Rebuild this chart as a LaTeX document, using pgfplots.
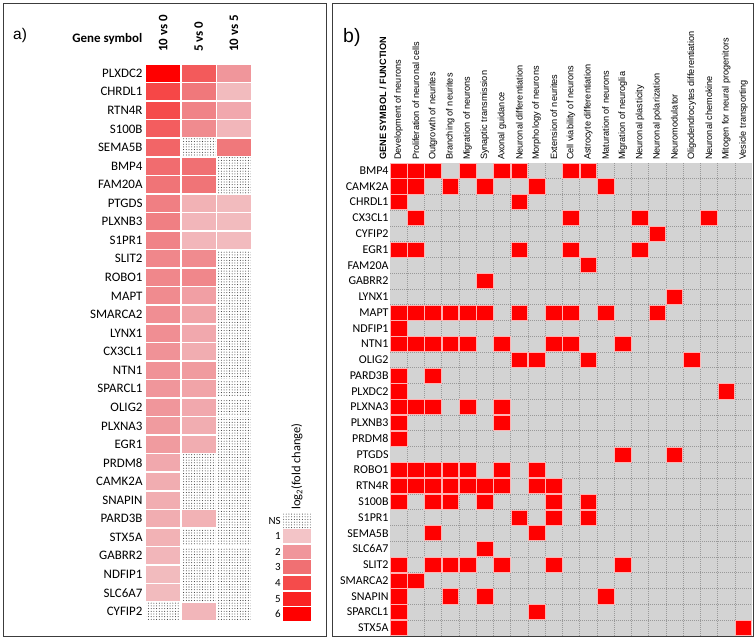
\documentclass[border=0pt]{standalone}
\usepackage{fontspec}
\setmainfont{Carlito}
\newfontfamily\arial{Liberation Sans}
\usepackage{pgfplots}
\pgfplotsset{compat=1.18}
\usetikzlibrary{patterns}
\definecolor{cellgray}{RGB}{211,211,211}
\definecolor{boxgray}{RGB}{60,60,60}
\pgfplotsset{colormap={fc}{rgb255(0cm)=(243,196,199); rgb255(1cm)=(240,150,155); rgb255(2cm)=(240,112,115); rgb255(3cm)=(245,75,75); rgb255(4cm)=(250,35,35); rgb255(5cm)=(255,0,0)}}
\pgfdeclarepatternformonly{nsdots}{\pgfqpoint{-0.6bp}{-0.6bp}}{\pgfqpoint{0.6bp}{0.6bp}}{\pgfqpoint{2.7bp}{2.7bp}}{\pgfpathcircle{\pgfpointorigin}{0.52bp}\pgfusepath{fill}}
% cell marks
\pgfdeclareplotmark{cellA}{\pgfpathrectangle{\pgfpoint{-16.9bp}{-8.47bp}}{\pgfpoint{33.8bp}{16.94bp}}\pgfusepathqfill}
\pgfdeclareplotmark{nsA}{\pgfpathrectangle{\pgfpoint{-16.9bp}{-8.6bp}}{\pgfpoint{33.8bp}{17.2bp}}\pgfsetfillpattern{nsdots}{black!78}\pgfusepath{fill}}
\pgfdeclareplotmark{cellL}{\pgfpathrectangle{\pgfpoint{-13.7bp}{-7.0bp}}{\pgfpoint{27.4bp}{14.0bp}}\pgfusepathqfill}
\pgfdeclareplotmark{nsL}{\pgfpathrectangle{\pgfpoint{-13.7bp}{-7.6bp}}{\pgfpoint{27.4bp}{15.2bp}}\pgfsetfillpattern{nsdots}{black!78}\pgfusepath{fill}}
\pgfdeclareplotmark{cellB}{\pgfpathrectangle{\pgfpoint{-8.32bp}{-7.58bp}}{\pgfpoint{16.64bp}{15.16bp}}\pgfusepath{fill,stroke}}
\begin{document}
\begin{tikzpicture}
\useasboundingbox (0,0) rectangle (756bp,641bp);
\draw[line width=1.3bp, boxgray] (3.3bp,4.3bp) rectangle (326.7bp,637.7bp);
\draw[line width=1.3bp, boxgray] (332.3bp,4.3bp) rectangle (753.7bp,637.7bp);
\node[anchor=base west, inner sep=0pt, font=\arial\fontsize{15.5}{17}\selectfont] at (13bp,601.7bp) {a)};
\node[anchor=base west, inner sep=0pt, font=\arial\fontsize{19.5}{21}\selectfont] at (343bp,598.3bp) {b)};
\node[anchor=base east, inner sep=0pt, font=\bfseries\fontsize{13}{15}\selectfont] at (142.5bp,598.5bp) {Gene symbol};
\node[anchor=west, rotate=90, inner sep=0pt, font=\arial\bfseries\fontsize{9.2}{10}\selectfont] at (383bp,481bp) {GENE SYMBOL / FUNCTION};
\node[anchor=west, rotate=90, inner sep=0pt, font=\fontsize{12.5}{14}\selectfont] at (297bp,131bp) {log\textsubscript{2}(fold change)};

% ---------- panel a heat map ----------
\begin{axis}[
  at={(145.5bp,20.3bp)}, anchor=south west, scale only axis,
  width=106.2bp, height=556.7bp,
  xmin=0.5, xmax=3.5, ymin=0.5, ymax=30.5,
  axis line style={draw=none}, major tick length=0pt, minor tick length=0pt,
  clip=false,
  xtick={1,2,3}, xticklabels={10 vs 0,5 vs 0,10 vs 5}, xticklabel pos=upper,
  xticklabel style={rotate=90, anchor=west, inner sep=0pt, font=\bfseries\fontsize{13}{15}\selectfont},
  xticklabel shift=12bp,
  ytick={1,...,30},
  yticklabels={CYFIP2,SLC6A7,NDFIP1,GABRR2,STX5A,PARD3B,SNAPIN,CAMK2A,PRDM8,EGR1,PLXNA3,OLIG2,SPARCL1,NTN1,CX3CL1,LYNX1,SMARCA2,MAPT,ROBO1,SLIT2,S1PR1,PLXNB3,PTGDS,FAM20A,BMP4,SEMA5B,S100B,RTN4R,CHRDL1,PLXDC2},
  yticklabel style={anchor=east, inner sep=0pt, font=\fontsize{13}{15}\selectfont},
  yticklabel shift=2.8bp,
  colormap name=fc, point meta min=1, point meta max=6,
]
\addplot[scatter, only marks, mark=cellA, point meta=explicit,
  scatter/use mapped color={draw=none,fill=mapped color}] table[x=x, y=y, meta=c] {
x y c
1 30 6.0
2 30 3.6
3 30 2.0
1 29 4.1
2 29 2.8
3 29 1.2
1 28 4.0
2 28 2.5
3 28 1.6
1 27 3.5
2 27 2.3
3 27 1.3
1 26 3.3
3 26 2.8
1 25 3.1
2 25 3.0
1 24 2.9
2 24 2.9
1 23 2.6
2 23 1.4
3 23 1.2
1 22 2.6
2 22 1.3
3 22 1.2
1 21 2.5
2 21 1.3
3 21 1.2
1 20 2.4
2 20 2.3
1 19 2.4
2 19 2.4
1 18 2.3
2 18 1.8
1 17 2.2
2 17 1.7
1 16 2.2
2 16 1.6
1 15 2.1
2 15 1.5
1 14 2.1
2 14 1.9
1 13 2.0
2 13 1.7
1 12 2.0
2 12 1.6
1 11 1.9
2 11 1.5
1 10 1.9
2 10 1.5
1 9 1.6
1 8 1.5
1 7 1.5
1 6 1.5
2 6 1.4
1 5 1.4
1 4 1.3
1 3 1.2
1 2 1.2
2 1 1.3
};
\addplot[only marks, mark=nsA] coordinates {
(1,1) (2,26) (2,9) (2,8) (2,7) (2,5) (2,4) (2,3) (2,2)
(3,25) (3,24) (3,20) (3,19) (3,18) (3,17) (3,16) (3,15) (3,14) (3,13) (3,12)
(3,11) (3,10) (3,9) (3,8) (3,7) (3,6) (3,5) (3,4) (3,3) (3,2) (3,1)
};
\end{axis}

% ---------- panel a legend ----------
\begin{axis}[
  at={(283.3bp,19bp)}, anchor=south west, scale only axis,
  width=27.4bp, height=109.3bp,
  xmin=0.5, xmax=1.5, ymin=-0.5, ymax=6.5,
  axis line style={draw=none}, major tick length=0pt, minor tick length=0pt,
  clip=false, xtick=\empty,
  ytick={0,...,6}, yticklabels={6,5,4,3,2,1,NS},
  yticklabel style={anchor=east, inner sep=0pt, font=\fontsize{11}{13}\selectfont},
  yticklabel shift=2.4bp,
  colormap name=fc, point meta min=1, point meta max=6,
]
\addplot[scatter, only marks, mark=cellL, point meta=explicit,
  scatter/use mapped color={draw=none,fill=mapped color}] table[x=x, y=y, meta=c] {
x y c
1 5 1
1 4 2
1 3 3
1 2 4
1 1 5
1 0 6
};
\addplot[only marks, mark=nsL] coordinates {(1,6)};
\end{axis}

% ---------- panel b ----------
\begin{axis}[
  at={(390bp,5.3bp)}, anchor=south west, scale only axis,
  width=362bp, height=473bp,
  xmin=0.5, xmax=21.5, ymin=0.5, ymax=30.5,
  axis line style={draw=none}, major tick length=0pt, minor tick length=0pt,
  axis background/.style={fill=cellgray},
  clip=false,
  minor xtick={1.5,2.5,...,20.5}, minor ytick={1.5,2.5,...,29.5},
  xminorgrids=true, yminorgrids=true,
  minor grid style={black!40, dash pattern=on 1bp off 1bp, line width=0.5bp},
  xtick={1,...,21},
  xticklabels={Development of neurons,Proliferation of neuronal cells,Outgrowth of neurites,Branching of neurites,Migration of neurons,Synaptic transmission,Axonal guidance,Neuronal differentiation,Morphology of neurons,Extension of neurites,Cell viability of neurons,Astrocyte differentiation,Maturation of neurons,Migration of neuroglia,Neuronal plasticity,Neuronal polarization,Neuromodulator,Oligodendrocytes differentiation,Neuronal chemokine,Mitogen for neural progenitors,Vesicle transporting},
  xticklabel pos=upper,
  xticklabel style={rotate=90, anchor=west, inner sep=0pt, font=\arial\fontsize{9.2}{10}\selectfont},
  xticklabel shift=2.5bp,
  ytick={1,...,30},
  yticklabels={STX5A,SPARCL1,SNAPIN,SMARCA2,SLIT2,SLC6A7,SEMA5B,S1PR1,S100B,RTN4R,ROBO1,PTGDS,PRDM8,PLXNB3,PLXNA3,PLXDC2,PARD3B,OLIG2,NTN1,NDFIP1,MAPT,LYNX1,GABRR2,FAM20A,EGR1,CYFIP2,CX3CL1,CHRDL1,CAMK2A,BMP4},
  yticklabel style={anchor=east, inner sep=0pt, font=\fontsize{12}{14}\selectfont},
  yticklabel shift=1.3bp,
]
\addplot[red, only marks, mark=cellB, mark options={fill=red, draw=red!30!white, line width=0.6bp}] coordinates {
(1,30) (2,30) (3,30) (5,30) (7,30) (8,30) (11,30) (12,30)
(1,29) (2,29) (4,29) (6,29) (9,29) (13,29)
(1,28) (8,28)
(2,27) (11,27) (15,27) (19,27)
(16,26)
(1,25) (2,25) (8,25) (11,25) (15,25)
(12,24)
(6,23)
(17,22)
(1,21) (2,21) (3,21) (4,21) (5,21) (6,21) (8,21) (10,21) (11,21) (13,21) (16,21)
(1,20)
(1,19) (2,19) (3,19) (4,19) (5,19) (7,19) (10,19) (11,19) (14,19)
(8,18) (9,18) (12,18) (18,18)
(1,17) (3,17)
(1,16) (20,16)
(1,15) (2,15) (3,15) (5,15) (7,15)
(1,14) (7,14)
(1,13)
(14,12) (17,12)
(1,11) (2,11) (3,11) (4,11) (5,11) (7,11) (9,11)
(1,10) (2,10) (3,10) (4,10) (5,10) (6,10) (7,10) (9,10) (10,10)
(1,9) (3,9) (4,9) (6,9) (10,9) (12,9)
(8,8) (10,8) (12,8)
(3,7) (9,7)
(6,6)
(1,5) (3,5) (4,5) (5,5) (7,5) (10,5) (14,5)
(1,4) (2,4)
(1,3) (4,3) (6,3) (13,3)
(1,2) (9,2)
(1,1) (21,1)
};
\end{axis}
\end{tikzpicture}
\end{document}
